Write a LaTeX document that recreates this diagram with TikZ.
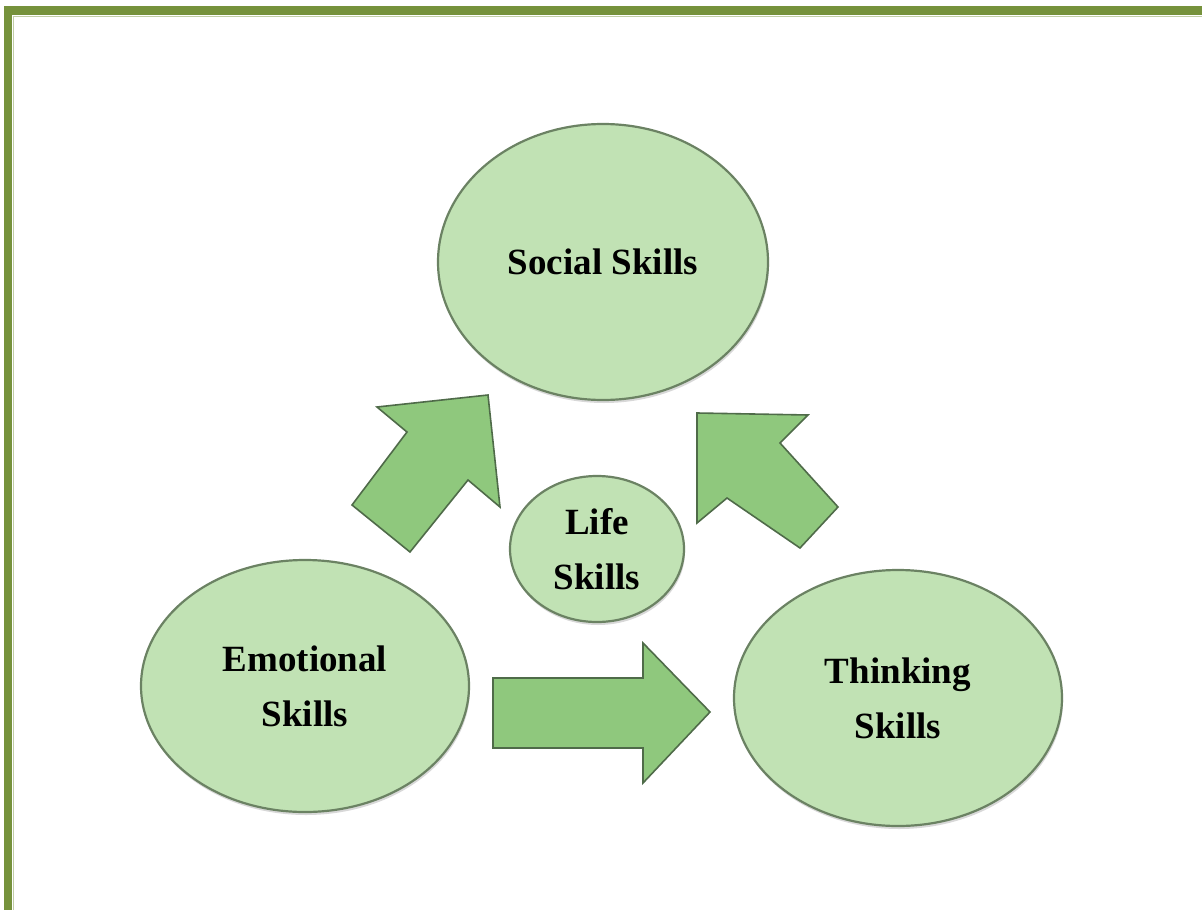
\documentclass[tikz,border=0pt]{standalone}
\usepackage{fontspec}
\setmainfont{Liberation Serif}
\usepackage{xcolor}
\usepackage{tikz}
\usetikzlibrary{shapes.geometric,shadows}

\definecolor{frameolive}{HTML}{76923C}
\definecolor{skillfill}{HTML}{C1E2B4}
\definecolor{skillline}{HTML}{6B8263}
\definecolor{arrowfill}{HTML}{8FC87D}
\definecolor{arrowline}{HTML}{4F6B49}

\begin{document}
\begin{tikzpicture}[x=1pt,y=-1pt,
		skill/.style={ellipse, draw=skillline, line width=2.2pt, fill=skillfill, inner sep=0pt,
			align=center, font=\fontsize{37}{55}\selectfont\bfseries,
			drop shadow={shadow xshift=1pt, shadow yshift=-3pt, opacity=0.3}},
		blockarrow/.style={draw=arrowline, line width=1.6pt, fill=arrowfill, line join=miter}]
			\useasboundingbox[fill=white] (0,0) rectangle (1202,910);
			
			% khung viền
			\fill[frameolive] (4,6) rectangle (1202,15);
			\fill[frameolive] (4,6) rectangle (12,910);
			\draw[frameolive!45, line width=1pt] (12.5,16) -- (1202,16);
			\draw[frameolive!45, line width=1pt] (13,16) -- (13,910);
			
			% các kỹ năng
			\node[skill, minimum width=330pt, minimum height=276pt] (social) at (603,262) {Social Skills};
			\node[skill, minimum width=174pt, minimum height=146pt] (life) at (597,549) {Life\\Skills};
			\node[skill, minimum width=328pt, minimum height=252pt] (emotional) at (305,686) {Emotional\\Skills};
			\node[skill, minimum width=328pt, minimum height=256pt] (thinking) at (898,698) {Thinking\\Skills};
			
			% mũi tên khối
			\draw[blockarrow] (352,505) -- (407,432) -- (377,407) -- (488,395) -- (500,507) -- (468,480) -- (410,552) -- cycle;
			\draw[blockarrow] (697,413) -- (808,415) -- (780,443) -- (838,507) -- (800,548) -- (727,498) -- (697,523) -- cycle;
			\draw[blockarrow] (493,678) -- (643,678) -- (643,643) -- (710,712) -- (643,783) -- (643,748) -- (493,748) -- cycle;
		\end{tikzpicture}
\end{document}
